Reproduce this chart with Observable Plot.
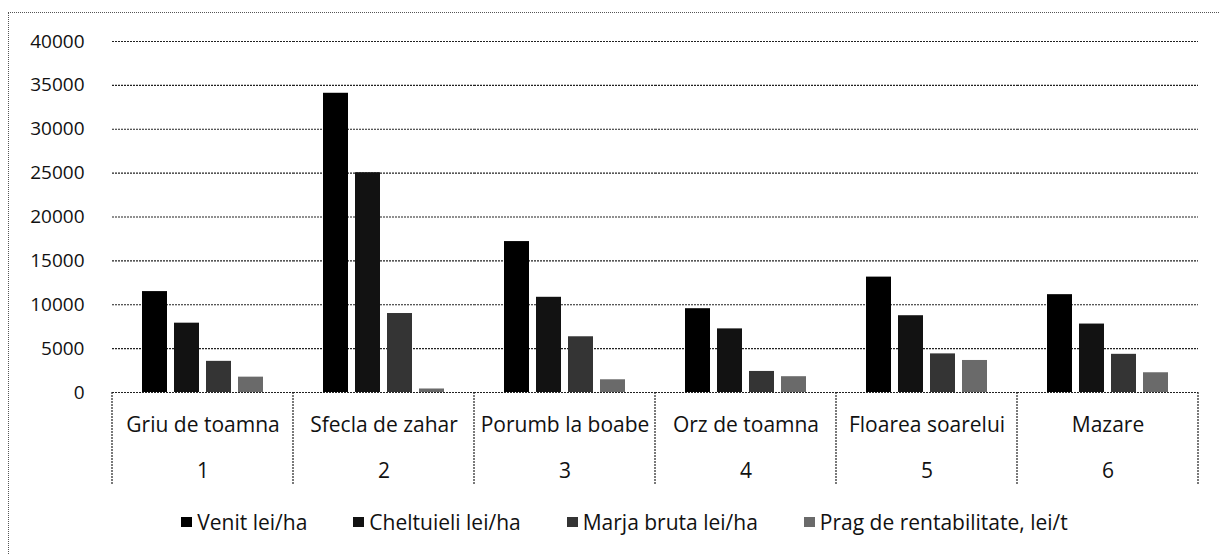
<!DOCTYPE html>
<html>
<head>
<meta charset="utf-8">
<script src="https://cdn.jsdelivr.net/npm/d3@7"></script>
<script src="https://cdn.jsdelivr.net/npm/@observablehq/plot@0.6"></script>
<style>
  html, body { margin: 0; padding: 0; background: #fff; }
  #wrap { position: relative; width: 1219px; height: 554px; overflow: hidden; font-family: "Open Sans", sans-serif; color: #111; }
  #frame { position: absolute; left: 8px; top: 12px; right: -2px; bottom: -2px; border-left: 1px dotted #555; border-top: 1px dotted #555; pointer-events: none; }
  #chart svg { display: block; }
  #legend { display: flex; justify-content: center; gap: 46px; font-size: 21px; line-height: 30px; margin-top: 12px; padding-left: 30px; }
  .item { display: flex; align-items: center; }
  .sw { width: 11px; height: 10px; margin-right: 5px; display: inline-block; }
</style>
</head>
<body>
<div id="wrap">
  <div id="chart"></div>
  <div id="legend"></div>
  <div id="frame"></div>
</div>
<script>
// ---- data ----
const crops = ["Griu de toamna", "Sfecla de zahar", "Porumb la boabe", "Orz de toamna", "Floarea soarelui", "Mazare"];
const cropNumbers = ["1", "2", "3", "4", "5", "6"];
const series = ["Venit lei/ha", "Cheltuieli lei/ha", "Marja bruta lei/ha", "Prag de rentabilitate, lei/t"];
const venit = [11500, 34100, 17200, 9550, 13150, 11150];
const cheltuieli = [7900, 25050, 10850, 7250, 8750, 7800];
const marja = [3550, 9000, 6350, 2400, 4400, 4350];
const prag = [1750, 400, 1450, 1800, 3650, 2250];
const yTicks = [0, 5000, 10000, 15000, 20000, 25000, 30000, 35000, 40000];
const colors = ["#000000", "#121212", "#343434", "#6a6a6a"];

// ---- build table ----
const valuesBySeries = [venit, cheltuieli, marja, prag];
const rows = [];
crops.forEach((c, i) => series.forEach((s, j) => rows.push({crop: c, series: s, value: valuesBySeries[j][i]})));
const cropRows = crops.map((c, i) => ({crop: c, name: c, num: cropNumbers[i]}));

const plot = Plot.plot({
  width: 1219,
  height: 495,
  marginTop: 41,
  marginBottom: 103,
  marginLeft: 110,
  marginRight: 19,
  style: {fontFamily: "'Open Sans', sans-serif", fontSize: "19px", color: "#111", background: "transparent", overflow: "visible"},
  fx: {domain: crops, padding: 0, axis: null},
  x: {domain: series, paddingInner: 0.21, paddingOuter: 0.86, axis: null},
  y: {domain: [0, 40000], ticks: yTicks, tickSize: 0, tickPadding: 28, label: null, tickFormat: d => String(d)},
  color: {domain: series, range: colors},
  marks: [
    Plot.ruleY(yTicks, {stroke: "#222", strokeWidth: 1.2, strokeDasharray: "2,1"}),
    Plot.barY(rows, {fx: "crop", x: "series", y: "value", fill: "series"}),
    Plot.text(cropRows, {fx: "crop", text: "name", frameAnchor: "bottom", dy: 39, fontSize: 21, fill: "#111"}),
    Plot.text(cropRows, {fx: "crop", text: "num", frameAnchor: "bottom", dy: 85, fontSize: 21, fill: "#111"})
  ]
});

// group dividers in the category area, from the library's fx and y scales
const fx = plot.scale("fx");
const ys = plot.scale("y");
const edges = fx.domain.map(d => fx.apply(d));
edges.push(fx.apply(fx.domain[fx.domain.length - 1]) + fx.bandwidth);
const y0 = ys.apply(0);
d3.select(plot).append("g")
  .selectAll("line").data(edges).join("line")
  .attr("x1", d => d).attr("x2", d => d)
  .attr("y1", y0).attr("y2", y0 + 93)
  .attr("stroke", "#222").attr("stroke-width", 1.2).attr("stroke-dasharray", "2,1");

document.getElementById("chart").appendChild(plot);

// legend
const legend = d3.select("#legend");
series.forEach((s, i) => {
  const it = legend.append("div").attr("class", "item");
  it.append("span").attr("class", "sw").style("background", colors[i]);
  it.append("span").text(s);
});
</script>
</body>
</html>
